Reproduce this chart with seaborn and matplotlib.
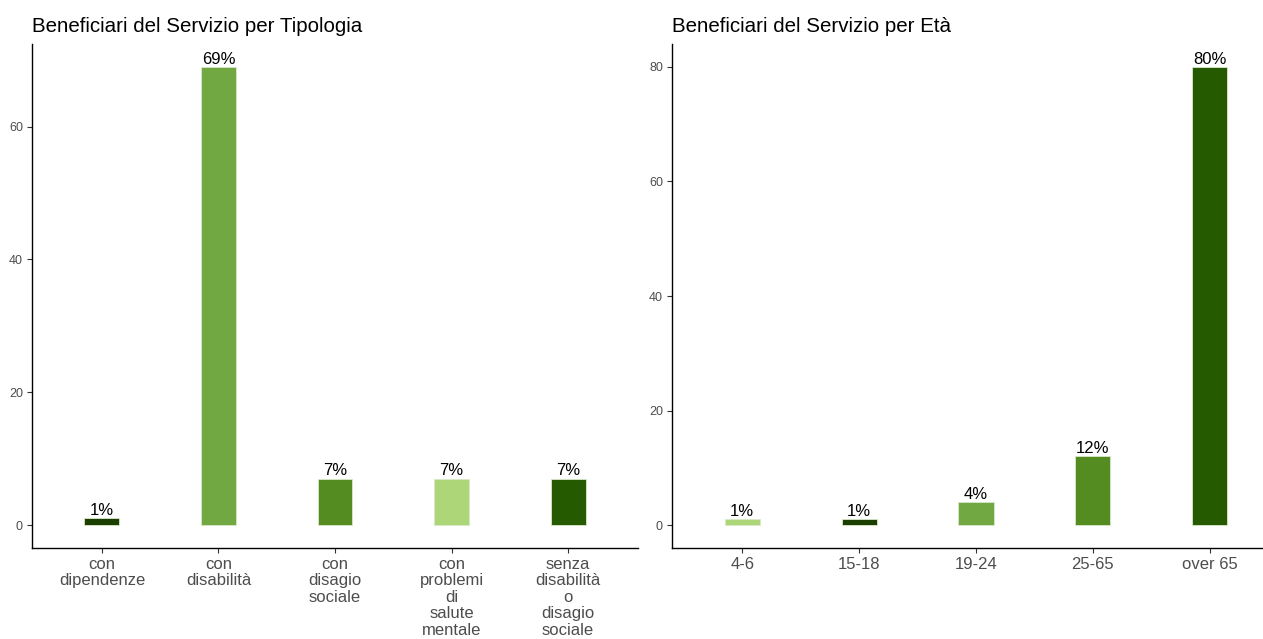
import pandas as pd
import seaborn as sns
import matplotlib.pyplot as plt

# Data
tipologia = ["con\ndipendenze", "con\ndisabilità", "con\ndisagio\nsociale",
             "con\nproblemi\ndi\nsalute\nmentale", "senza\ndisabilità\no\ndisagio\nsociale"]
tipologia_val = [1, 69, 7, 7, 7]
tipologia_col = ["#1b3f00", "#72a842", "#548c22", "#acd678", "#255a00"]

eta = ["4-6", "15-18", "19-24", "25-65", "over 65"]
eta_val = [1, 1, 4, 12, 80]
eta_col = ["#acd678", "#1b3f00", "#72a842", "#548c22", "#255a00"]

sns.set_style("white")
plt.rcParams['font.family'] = ['Liberation Sans', 'DejaVu Sans']

fig = plt.figure(figsize=(12.63, 6.39), dpi=100)
ax1 = fig.add_axes([32 / 1263, 91 / 639, 606 / 1263, 504 / 639])
ax2 = fig.add_axes([672 / 1263, 91 / 639, 608 / 1263, 504 / 639])


def draw(ax, cats, vals, cols, title, yticks):
    df = pd.DataFrame({"cat": cats, "val": vals})
    sns.barplot(data=df, x="cat", y="val", hue="cat", palette=cols, width=0.3,
                saturation=1, legend=False, ax=ax, edgecolor="#d8e8c8", linewidth=0.6)
    top = max(vals)
    ax.set_ylim(-0.05 * top, top * 1.05)
    ax.set_xlim(-0.6, len(cats) - 0.4)
    ax.set_yticks(yticks)
    for i, v in enumerate(vals):
        ax.text(i, v + 0.05, f"{v}%", ha="center", va="bottom", fontsize=12, color="black")
    ax.set_xlabel("")
    ax.set_ylabel("")
    ax.set_title(title, loc="left", fontsize=14.8, pad=9, color="black")
    for s in ["top", "right"]:
        ax.spines[s].set_visible(False)
    for s in ["left", "bottom"]:
        ax.spines[s].set_color("black")
        ax.spines[s].set_linewidth(1.0)
    ax.tick_params(axis="x", length=3.5, width=0.8, color="#333333", labelsize=12,
                   labelcolor="#4d4d4d", pad=3, bottom=True)
    ax.tick_params(axis="y", length=3.5, width=0.8, color="#333333", labelsize=9,
                   labelcolor="#4d4d4d", pad=3, left=True)
    for lab in ax.get_xticklabels():
        lab.set_linespacing(1.12)


draw(ax1, tipologia, tipologia_val, tipologia_col, "Beneficiari del Servizio per Tipologia", [0, 20, 40, 60])
draw(ax2, eta, eta_val, eta_col, "Beneficiari del Servizio per Età", [0, 20, 40, 60, 80])

fig.savefig("out.png", dpi=100)
